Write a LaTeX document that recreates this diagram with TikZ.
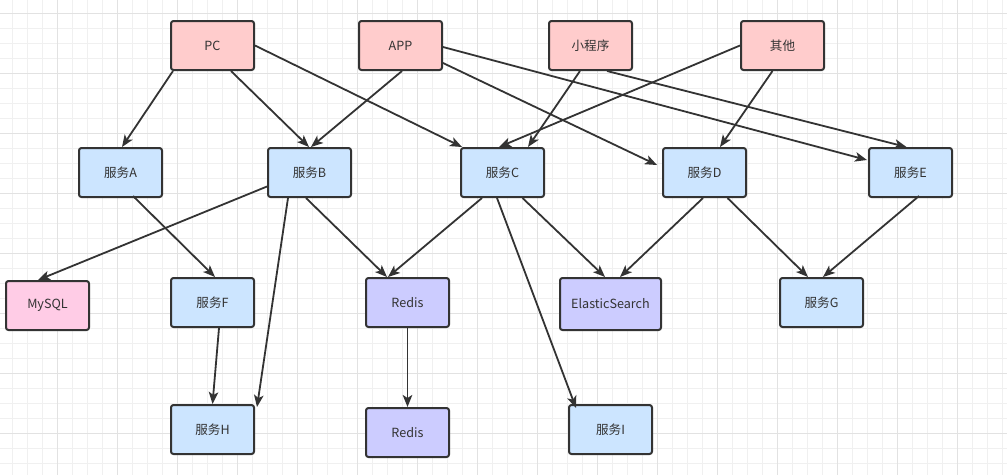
\documentclass[tikz,border=0pt]{standalone}
\usepackage{fontspec}
\setmainfont{Noto Sans CJK SC}
\usetikzlibrary{arrows.meta}
\definecolor{linec}{HTML}{333333}
\definecolor{clientfill}{HTML}{FFCCCC}
\definecolor{svcfill}{HTML}{CCE5FF}
\definecolor{storefill}{HTML}{CCCCFF}
\definecolor{dbfill}{HTML}{FFCCE6}
\definecolor{gridminor}{HTML}{F0F0F0}
\definecolor{gridmajor}{HTML}{E2E2E2}
\tikzset{
  box/.style={draw=linec, line width=2pt, rounded corners=2.5pt, minimum width=83pt, minimum height=49pt, inner sep=0pt, font=\fontsize{12.6pt}{14pt}\selectfont, text=linec},
  client/.style={box, fill=clientfill},
  svc/.style={box, fill=svcfill},
  store/.style={box, fill=storefill},
  db/.style={box, fill=dbfill},
  conn/.style={draw=linec, line width=1.8pt, -{Stealth[length=12pt,width=9.5pt,inset=3pt]}}
}
\begin{document}
\begin{tikzpicture}[x=1pt,y=-1pt]
\useasboundingbox (0,0) rectangle (1007,475);
\fill[white] (0,0) rectangle (1007,475);
% grid
\foreach \i in {0,...,66} {\draw[gridminor, line width=1pt] ({12.7+15*\i},0) -- ({12.7+15*\i},475);}
\foreach \j in {0,...,31} {\draw[gridminor, line width=1pt] (0,{13.3+15*\j}) -- (1007,{13.3+15*\j});}
\foreach \i in {0,...,16} {\draw[gridmajor, line width=1pt] ({57.7+60*\i},0) -- ({57.7+60*\i},475);}
\foreach \j in {0,...,7} {\draw[gridmajor, line width=1pt] (0,{13.3+60*\j}) -- (1007,{13.3+60*\j});}

% nodes
\node[client] (PC) at (212.5,45.5) {PC};
\node[client] (APP) at (400.5,45.5) {APP};
\node[client] (MP) at (590.5,45.5) {小程序};
\node[client] (OT) at (782.5,45.5) {其他};

\node[svc] (A) at (120.5,172.5) {服务A};
\node[svc] (B) at (309.5,172.5) {服务B};
\node[svc] (C) at (502.5,172.5) {服务C};
\node[svc] (D) at (704.5,172.5) {服务D};
\node[svc] (E) at (910.5,172.5) {服务E};

\node[db] (MY) at (47.5,305.5) {MySQL};
\node[svc] (F) at (212.5,302.5) {服务F};
\node[store] (R1) at (407.5,302.5) {Redis};
\node[store, minimum width=101pt, minimum height=52pt] (ES) at (610.5,304) {ElasticSearch};
\node[svc] (G) at (821.5,302.5) {服务G};

\node[svc] (H) at (212.5,429.5) {服务H};
\node[store] (R2) at (407.5,432.5) {Redis};
\node[svc] (I) at (610.5,429.5) {服务I};

% connectors
\draw[conn] ([xshift=-39.5pt]PC.south) -- ([xshift=1.5pt]A.north);
\draw[conn] ([xshift=18.5pt]PC.south) -- ([xshift=-0.5pt]B.north);
\draw[conn] (PC.east) -- ([xshift=2pt]C.north west);
\draw[conn] ([xshift=1.5pt]APP.south) -- ([xshift=1.5pt]B.north);
\draw[conn] ([yshift=-17.5pt]APP.east) -- ([xshift=-5pt,yshift=7.5pt]D.west);
\draw[conn] ([yshift=-1.5pt]APP.east) -- ([xshift=-1pt,yshift=12.5pt]E.west);
\draw[conn] ([xshift=-10.5pt]MP.south) -- ([xshift=25.5pt]C.north);
\draw[conn] ([xshift=16.5pt]MP.south) -- ([xshift=-4pt]E.north);
\draw[conn] (OT.west) -- ([xshift=-3.5pt]C.north);
\draw[conn] ([xshift=-10pt]OT.south) -- ([xshift=15.5pt]D.north);

\draw[conn] ([xshift=12.5pt,yshift=2pt]A.south) -- ([xshift=2.5pt]F.north);
\draw[conn] ([yshift=-14pt]B.west) -- ([xshift=-9.5pt]MY.north);
\draw[conn] ([xshift=-21.5pt]B.south) -- ([xshift=2pt,yshift=-3pt]H.north east);
\draw[conn] ([xshift=-3.5pt]B.south) -- ([xshift=-20.5pt]R1.north);
\draw[conn] ([xshift=-20.5pt]C.south) -- ([xshift=-19.5pt]R1.north);
\draw[conn] ([xshift=-5.5pt]C.south) -- ([xshift=8pt,yshift=-4pt]I.north west);
\draw[conn] ([xshift=20pt]C.south) -- ([xshift=-5.5pt]ES.north);
\draw[conn] ([xshift=-1.5pt]D.south) -- ([xshift=9.5pt]ES.north);
\draw[conn] ([xshift=23pt]D.south) -- ([xshift=-13.5pt]G.north);
\draw[conn] ([xshift=8.5pt,yshift=2pt]E.south) -- ([xshift=1.5pt]G.north);

\draw[conn] ([xshift=6.5pt]F.south) -- (H.north);
\draw[conn] (R1.south) -- (R2.north);
\end{tikzpicture}
\end{document}
